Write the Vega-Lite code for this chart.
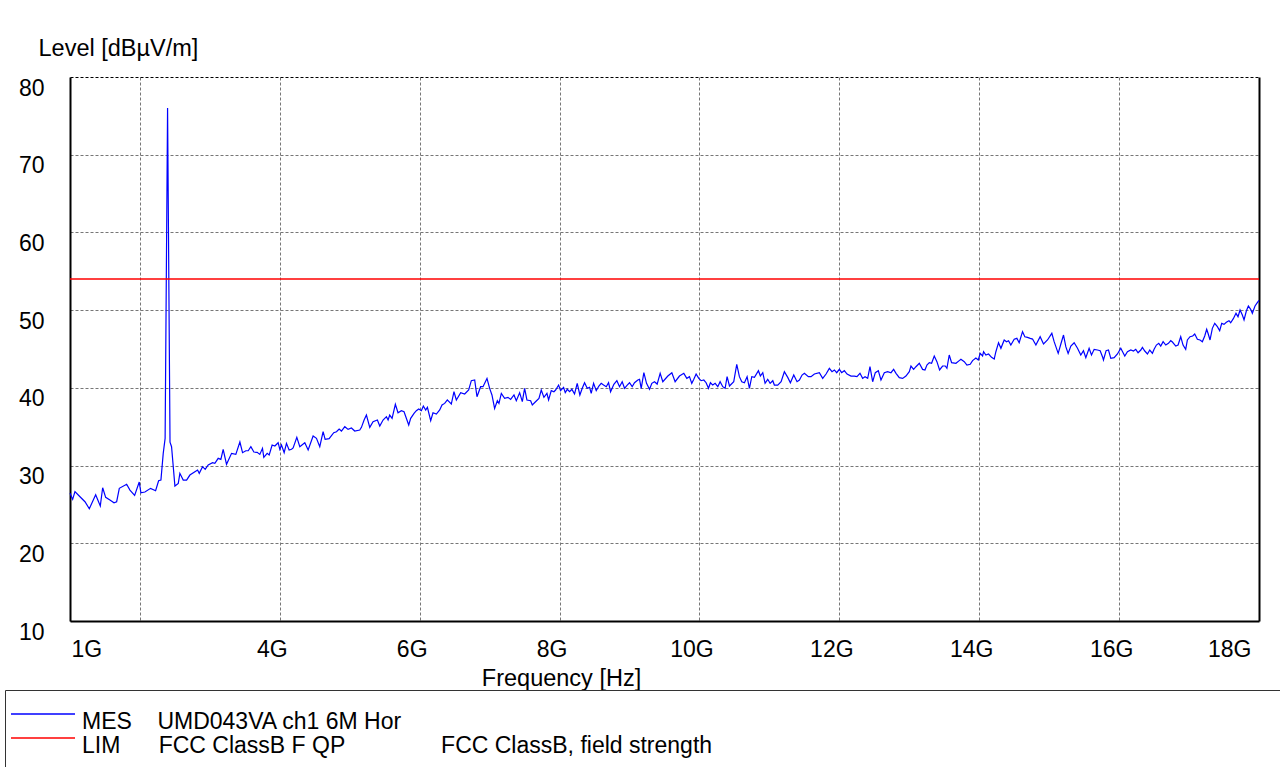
{
  "$schema": "https://vega.github.io/schema/vega-lite/v6.json",
  "width": 1189,
  "height": 544,
  "autosize": {"type": "none"},
  "padding": {"left": 70, "top": 77, "right": 21, "bottom": 146},
  "background": "white",
  "config": {
    "view": {"stroke": null},
    "font": "Liberation Sans",
    "legend": {
      "orient": "none", "legendX": -65, "legendY": 613,
      "title": null,
      "symbolType": "M-2.6,-0.8H3.8", "symbolSize": 400, "symbolStrokeWidth": 1.3,
      "labelFont": "Liberation Sans", "labelFontSize": 23, "labelColor": "black",
      "labelOffset": 33.5, "labelBaseline": "middle", "labelLimit": 4000,
      "padding": 20.5, "strokeColor": "#333333", "rowPadding": 0
    }
  },
  "data": {
    "values": [
      {"f": 1.0, "L": 26.43, "s": "MES"}, {"f": 1.038, "L": 25.65, "s": "MES"}, {"f": 1.071, "L": 26.64, "s": "MES"},
      {"f": 1.143, "L": 25.99, "s": "MES"}, {"f": 1.214, "L": 25.35, "s": "MES"}, {"f": 1.276, "L": 24.45, "s": "MES"},
      {"f": 1.367, "L": 26.25, "s": "MES"}, {"f": 1.433, "L": 24.8, "s": "MES"}, {"f": 1.467, "L": 27.15, "s": "MES"},
      {"f": 1.51, "L": 25.91, "s": "MES"}, {"f": 1.571, "L": 25.57, "s": "MES"}, {"f": 1.629, "L": 25.22, "s": "MES"},
      {"f": 1.667, "L": 25.35, "s": "MES"}, {"f": 1.705, "L": 27.07, "s": "MES"}, {"f": 1.81, "L": 27.59, "s": "MES"},
      {"f": 1.857, "L": 26.85, "s": "MES"}, {"f": 1.924, "L": 26.17, "s": "MES"}, {"f": 1.99, "L": 27.88, "s": "MES"},
      {"f": 2.014, "L": 26.5, "s": "MES"}, {"f": 2.071, "L": 26.6, "s": "MES"}, {"f": 2.152, "L": 27.07, "s": "MES"},
      {"f": 2.224, "L": 26.76, "s": "MES"}, {"f": 2.267, "L": 28.05, "s": "MES"}, {"f": 2.3, "L": 28.14, "s": "MES"},
      {"f": 2.333, "L": 31.57, "s": "MES"}, {"f": 2.36, "L": 33.5, "s": "MES"}, {"f": 2.395, "L": 76.0, "s": "MES"},
      {"f": 2.43, "L": 33.0, "s": "MES"}, {"f": 2.452, "L": 32.43, "s": "MES"}, {"f": 2.5, "L": 27.37, "s": "MES"},
      {"f": 2.548, "L": 27.71, "s": "MES"}, {"f": 2.571, "L": 29.0, "s": "MES"}, {"f": 2.619, "L": 28.14, "s": "MES"},
      {"f": 2.667, "L": 28.14, "s": "MES"}, {"f": 2.714, "L": 28.78, "s": "MES"}, {"f": 2.786, "L": 29.21, "s": "MES"},
      {"f": 2.824, "L": 29.43, "s": "MES"}, {"f": 2.848, "L": 29.0, "s": "MES"}, {"f": 2.895, "L": 29.86, "s": "MES"},
      {"f": 2.933, "L": 29.52, "s": "MES"}, {"f": 2.976, "L": 30.07, "s": "MES"}, {"f": 3.038, "L": 30.37, "s": "MES"},
      {"f": 3.071, "L": 30.28, "s": "MES"}, {"f": 3.119, "L": 30.93, "s": "MES"}, {"f": 3.157, "L": 30.8, "s": "MES"},
      {"f": 3.19, "L": 32.09, "s": "MES"}, {"f": 3.238, "L": 30.16, "s": "MES"}, {"f": 3.31, "L": 31.57, "s": "MES"},
      {"f": 3.371, "L": 31.44, "s": "MES"}, {"f": 3.429, "L": 33.03, "s": "MES"}, {"f": 3.467, "L": 31.66, "s": "MES"},
      {"f": 3.514, "L": 31.91, "s": "MES"}, {"f": 3.548, "L": 31.91, "s": "MES"}, {"f": 3.586, "L": 32.43, "s": "MES"},
      {"f": 3.629, "L": 31.74, "s": "MES"}, {"f": 3.676, "L": 31.7, "s": "MES"}, {"f": 3.714, "L": 31.44, "s": "MES"},
      {"f": 3.752, "L": 32.22, "s": "MES"}, {"f": 3.771, "L": 31.06, "s": "MES"}, {"f": 3.819, "L": 31.57, "s": "MES"},
      {"f": 3.848, "L": 31.36, "s": "MES"}, {"f": 3.89, "L": 32.64, "s": "MES"}, {"f": 3.929, "L": 32.52, "s": "MES"},
      {"f": 3.976, "L": 32.94, "s": "MES"}, {"f": 4.0, "L": 32.09, "s": "MES"}, {"f": 4.024, "L": 32.64, "s": "MES"},
      {"f": 4.062, "L": 31.66, "s": "MES"}, {"f": 4.095, "L": 32.86, "s": "MES"}, {"f": 4.133, "L": 32.0, "s": "MES"},
      {"f": 4.167, "L": 32.09, "s": "MES"}, {"f": 4.19, "L": 32.26, "s": "MES"}, {"f": 4.243, "L": 33.63, "s": "MES"},
      {"f": 4.286, "L": 32.43, "s": "MES"}, {"f": 4.357, "L": 32.94, "s": "MES"}, {"f": 4.405, "L": 32.0, "s": "MES"},
      {"f": 4.476, "L": 33.8, "s": "MES"}, {"f": 4.524, "L": 33.5, "s": "MES"}, {"f": 4.571, "L": 32.43, "s": "MES"},
      {"f": 4.619, "L": 34.36, "s": "MES"}, {"f": 4.648, "L": 33.38, "s": "MES"}, {"f": 4.705, "L": 33.46, "s": "MES"},
      {"f": 4.771, "L": 34.23, "s": "MES"}, {"f": 4.81, "L": 34.36, "s": "MES"}, {"f": 4.848, "L": 34.7, "s": "MES"},
      {"f": 4.881, "L": 34.44, "s": "MES"}, {"f": 4.929, "L": 35.0, "s": "MES"}, {"f": 4.976, "L": 34.66, "s": "MES"},
      {"f": 5.024, "L": 34.83, "s": "MES"}, {"f": 5.071, "L": 34.44, "s": "MES"}, {"f": 5.143, "L": 34.57, "s": "MES"},
      {"f": 5.167, "L": 34.92, "s": "MES"}, {"f": 5.205, "L": 35.86, "s": "MES"}, {"f": 5.238, "L": 36.5, "s": "MES"},
      {"f": 5.286, "L": 34.92, "s": "MES"}, {"f": 5.333, "L": 35.65, "s": "MES"}, {"f": 5.395, "L": 35.86, "s": "MES"},
      {"f": 5.429, "L": 35.09, "s": "MES"}, {"f": 5.476, "L": 35.86, "s": "MES"}, {"f": 5.524, "L": 36.29, "s": "MES"},
      {"f": 5.548, "L": 35.86, "s": "MES"}, {"f": 5.571, "L": 36.5, "s": "MES"}, {"f": 5.605, "L": 36.08, "s": "MES"},
      {"f": 5.652, "L": 37.88, "s": "MES"}, {"f": 5.69, "L": 36.8, "s": "MES"}, {"f": 5.738, "L": 37.06, "s": "MES"},
      {"f": 5.776, "L": 36.93, "s": "MES"}, {"f": 5.843, "L": 35.22, "s": "MES"}, {"f": 5.871, "L": 36.08, "s": "MES"},
      {"f": 5.919, "L": 36.72, "s": "MES"}, {"f": 5.952, "L": 37.06, "s": "MES"}, {"f": 5.986, "L": 37.28, "s": "MES"},
      {"f": 6.024, "L": 37.06, "s": "MES"}, {"f": 6.052, "L": 37.66, "s": "MES"}, {"f": 6.086, "L": 37.15, "s": "MES"},
      {"f": 6.11, "L": 37.5, "s": "MES"}, {"f": 6.157, "L": 35.77, "s": "MES"}, {"f": 6.19, "L": 36.8, "s": "MES"},
      {"f": 6.238, "L": 36.63, "s": "MES"}, {"f": 6.286, "L": 37.15, "s": "MES"}, {"f": 6.319, "L": 37.79, "s": "MES"},
      {"f": 6.357, "L": 38.0, "s": "MES"}, {"f": 6.395, "L": 38.44, "s": "MES"}, {"f": 6.419, "L": 38.22, "s": "MES"},
      {"f": 6.452, "L": 37.92, "s": "MES"}, {"f": 6.49, "L": 39.5, "s": "MES"}, {"f": 6.524, "L": 38.44, "s": "MES"},
      {"f": 6.586, "L": 39.38, "s": "MES"}, {"f": 6.643, "L": 39.21, "s": "MES"}, {"f": 6.7, "L": 39.72, "s": "MES"},
      {"f": 6.738, "L": 40.92, "s": "MES"}, {"f": 6.786, "L": 41.01, "s": "MES"}, {"f": 6.819, "L": 38.86, "s": "MES"},
      {"f": 6.871, "L": 40.15, "s": "MES"}, {"f": 6.905, "L": 40.15, "s": "MES"}, {"f": 6.962, "L": 41.22, "s": "MES"},
      {"f": 7.0, "L": 39.94, "s": "MES"}, {"f": 7.033, "L": 39.08, "s": "MES"}, {"f": 7.071, "L": 37.36, "s": "MES"},
      {"f": 7.11, "L": 38.35, "s": "MES"}, {"f": 7.133, "L": 38.0, "s": "MES"}, {"f": 7.167, "L": 39.29, "s": "MES"},
      {"f": 7.214, "L": 38.65, "s": "MES"}, {"f": 7.262, "L": 38.78, "s": "MES"}, {"f": 7.3, "L": 38.52, "s": "MES"},
      {"f": 7.348, "L": 39.08, "s": "MES"}, {"f": 7.381, "L": 38.35, "s": "MES"}, {"f": 7.429, "L": 39.38, "s": "MES"},
      {"f": 7.467, "L": 38.22, "s": "MES"}, {"f": 7.5, "L": 39.94, "s": "MES"}, {"f": 7.533, "L": 38.44, "s": "MES"},
      {"f": 7.586, "L": 38.35, "s": "MES"}, {"f": 7.61, "L": 37.79, "s": "MES"}, {"f": 7.667, "L": 38.31, "s": "MES"},
      {"f": 7.705, "L": 38.65, "s": "MES"}, {"f": 7.738, "L": 39.72, "s": "MES"}, {"f": 7.776, "L": 38.78, "s": "MES"},
      {"f": 7.819, "L": 39.29, "s": "MES"}, {"f": 7.843, "L": 38.44, "s": "MES"}, {"f": 7.881, "L": 39.64, "s": "MES"},
      {"f": 7.919, "L": 39.5, "s": "MES"}, {"f": 7.943, "L": 39.72, "s": "MES"}, {"f": 7.986, "L": 40.36, "s": "MES"},
      {"f": 8.014, "L": 39.64, "s": "MES"}, {"f": 8.057, "L": 40.07, "s": "MES"}, {"f": 8.081, "L": 39.38, "s": "MES"},
      {"f": 8.11, "L": 39.81, "s": "MES"}, {"f": 8.143, "L": 39.5, "s": "MES"}, {"f": 8.176, "L": 39.81, "s": "MES"},
      {"f": 8.214, "L": 39.21, "s": "MES"}, {"f": 8.252, "L": 40.58, "s": "MES"}, {"f": 8.29, "L": 39.08, "s": "MES"},
      {"f": 8.324, "L": 39.94, "s": "MES"}, {"f": 8.357, "L": 40.66, "s": "MES"}, {"f": 8.395, "L": 39.94, "s": "MES"},
      {"f": 8.429, "L": 40.07, "s": "MES"}, {"f": 8.452, "L": 39.29, "s": "MES"}, {"f": 8.486, "L": 40.58, "s": "MES"},
      {"f": 8.524, "L": 39.64, "s": "MES"}, {"f": 8.562, "L": 40.24, "s": "MES"}, {"f": 8.595, "L": 40.58, "s": "MES"},
      {"f": 8.629, "L": 40.36, "s": "MES"}, {"f": 8.667, "L": 40.15, "s": "MES"}, {"f": 8.7, "L": 40.66, "s": "MES"},
      {"f": 8.729, "L": 39.5, "s": "MES"}, {"f": 8.776, "L": 40.45, "s": "MES"}, {"f": 8.819, "L": 40.92, "s": "MES"},
      {"f": 8.857, "L": 40.15, "s": "MES"}, {"f": 8.895, "L": 40.79, "s": "MES"}, {"f": 8.929, "L": 39.94, "s": "MES"},
      {"f": 8.967, "L": 40.36, "s": "MES"}, {"f": 9.0, "L": 40.66, "s": "MES"}, {"f": 9.038, "L": 40.15, "s": "MES"},
      {"f": 9.071, "L": 40.66, "s": "MES"}, {"f": 9.119, "L": 41.01, "s": "MES"}, {"f": 9.143, "L": 41.1, "s": "MES"},
      {"f": 9.167, "L": 39.94, "s": "MES"}, {"f": 9.205, "L": 41.95, "s": "MES"}, {"f": 9.243, "L": 40.58, "s": "MES"},
      {"f": 9.286, "L": 39.81, "s": "MES"}, {"f": 9.319, "L": 40.58, "s": "MES"}, {"f": 9.357, "L": 40.79, "s": "MES"},
      {"f": 9.395, "L": 40.49, "s": "MES"}, {"f": 9.438, "L": 41.87, "s": "MES"}, {"f": 9.476, "L": 40.79, "s": "MES"},
      {"f": 9.548, "L": 41.52, "s": "MES"}, {"f": 9.605, "L": 41.95, "s": "MES"}, {"f": 9.652, "L": 40.79, "s": "MES"},
      {"f": 9.714, "L": 41.52, "s": "MES"}, {"f": 9.776, "L": 41.87, "s": "MES"}, {"f": 9.819, "L": 41.22, "s": "MES"},
      {"f": 9.857, "L": 41.44, "s": "MES"}, {"f": 9.89, "L": 40.58, "s": "MES"}, {"f": 9.919, "L": 41.1, "s": "MES"},
      {"f": 9.952, "L": 41.78, "s": "MES"}, {"f": 9.99, "L": 41.22, "s": "MES"}, {"f": 10.024, "L": 40.92, "s": "MES"},
      {"f": 10.062, "L": 41.01, "s": "MES"}, {"f": 10.095, "L": 40.66, "s": "MES"}, {"f": 10.129, "L": 39.94, "s": "MES"},
      {"f": 10.157, "L": 40.66, "s": "MES"}, {"f": 10.19, "L": 40.36, "s": "MES"}, {"f": 10.224, "L": 40.58, "s": "MES"},
      {"f": 10.262, "L": 40.15, "s": "MES"}, {"f": 10.295, "L": 40.79, "s": "MES"}, {"f": 10.333, "L": 40.15, "s": "MES"},
      {"f": 10.367, "L": 39.94, "s": "MES"}, {"f": 10.395, "L": 41.44, "s": "MES"}, {"f": 10.429, "L": 40.24, "s": "MES"},
      {"f": 10.49, "L": 40.79, "s": "MES"}, {"f": 10.533, "L": 43.02, "s": "MES"}, {"f": 10.571, "L": 41.44, "s": "MES"},
      {"f": 10.605, "L": 40.79, "s": "MES"}, {"f": 10.643, "L": 40.66, "s": "MES"}, {"f": 10.681, "L": 41.44, "s": "MES"},
      {"f": 10.714, "L": 39.94, "s": "MES"}, {"f": 10.748, "L": 41.44, "s": "MES"}, {"f": 10.786, "L": 41.35, "s": "MES"},
      {"f": 10.843, "L": 42.21, "s": "MES"}, {"f": 10.871, "L": 41.52, "s": "MES"}, {"f": 10.905, "L": 41.95, "s": "MES"},
      {"f": 10.938, "L": 40.58, "s": "MES"}, {"f": 10.976, "L": 41.1, "s": "MES"}, {"f": 11.01, "L": 40.58, "s": "MES"},
      {"f": 11.048, "L": 40.92, "s": "MES"}, {"f": 11.071, "L": 40.36, "s": "MES"}, {"f": 11.119, "L": 40.36, "s": "MES"},
      {"f": 11.167, "L": 40.79, "s": "MES"}, {"f": 11.214, "L": 42.08, "s": "MES"}, {"f": 11.262, "L": 41.35, "s": "MES"},
      {"f": 11.3, "L": 40.66, "s": "MES"}, {"f": 11.348, "L": 41.65, "s": "MES"}, {"f": 11.395, "L": 40.79, "s": "MES"},
      {"f": 11.429, "L": 41.01, "s": "MES"}, {"f": 11.467, "L": 41.65, "s": "MES"}, {"f": 11.5, "L": 41.87, "s": "MES"},
      {"f": 11.557, "L": 41.44, "s": "MES"}, {"f": 11.595, "L": 41.44, "s": "MES"}, {"f": 11.643, "L": 41.78, "s": "MES"},
      {"f": 11.714, "L": 41.95, "s": "MES"}, {"f": 11.762, "L": 41.22, "s": "MES"}, {"f": 11.81, "L": 41.78, "s": "MES"},
      {"f": 11.857, "L": 42.51, "s": "MES"}, {"f": 11.895, "L": 42.08, "s": "MES"}, {"f": 11.929, "L": 42.3, "s": "MES"},
      {"f": 11.962, "L": 41.95, "s": "MES"}, {"f": 12.0, "L": 42.38, "s": "MES"}, {"f": 12.033, "L": 41.95, "s": "MES"},
      {"f": 12.071, "L": 42.21, "s": "MES"}, {"f": 12.11, "L": 41.78, "s": "MES"}, {"f": 12.167, "L": 41.52, "s": "MES"},
      {"f": 12.214, "L": 41.52, "s": "MES"}, {"f": 12.252, "L": 41.44, "s": "MES"}, {"f": 12.295, "L": 41.87, "s": "MES"},
      {"f": 12.333, "L": 41.22, "s": "MES"}, {"f": 12.367, "L": 41.44, "s": "MES"}, {"f": 12.405, "L": 41.22, "s": "MES"},
      {"f": 12.438, "L": 42.72, "s": "MES"}, {"f": 12.476, "L": 40.79, "s": "MES"}, {"f": 12.514, "L": 41.95, "s": "MES"},
      {"f": 12.557, "L": 42.21, "s": "MES"}, {"f": 12.595, "L": 41.01, "s": "MES"}, {"f": 12.643, "L": 41.95, "s": "MES"},
      {"f": 12.69, "L": 42.08, "s": "MES"}, {"f": 12.738, "L": 41.95, "s": "MES"}, {"f": 12.776, "L": 42.38, "s": "MES"},
      {"f": 12.81, "L": 41.87, "s": "MES"}, {"f": 12.857, "L": 41.31, "s": "MES"}, {"f": 12.905, "L": 41.22, "s": "MES"},
      {"f": 12.952, "L": 41.52, "s": "MES"}, {"f": 13.0, "L": 42.08, "s": "MES"}, {"f": 13.024, "L": 42.81, "s": "MES"},
      {"f": 13.062, "L": 42.38, "s": "MES"}, {"f": 13.095, "L": 42.72, "s": "MES"}, {"f": 13.143, "L": 43.16, "s": "MES"},
      {"f": 13.19, "L": 42.38, "s": "MES"}, {"f": 13.224, "L": 42.3, "s": "MES"}, {"f": 13.252, "L": 42.94, "s": "MES"},
      {"f": 13.286, "L": 43.24, "s": "MES"}, {"f": 13.319, "L": 43.16, "s": "MES"}, {"f": 13.357, "L": 44.1, "s": "MES"},
      {"f": 13.395, "L": 43.37, "s": "MES"}, {"f": 13.433, "L": 42.3, "s": "MES"}, {"f": 13.476, "L": 42.81, "s": "MES"},
      {"f": 13.514, "L": 42.81, "s": "MES"}, {"f": 13.538, "L": 42.51, "s": "MES"}, {"f": 13.571, "L": 44.23, "s": "MES"},
      {"f": 13.605, "L": 43.24, "s": "MES"}, {"f": 13.667, "L": 43.16, "s": "MES"}, {"f": 13.714, "L": 43.5, "s": "MES"},
      {"f": 13.738, "L": 43.67, "s": "MES"}, {"f": 13.786, "L": 43.37, "s": "MES"}, {"f": 13.824, "L": 42.94, "s": "MES"},
      {"f": 13.871, "L": 43.03, "s": "MES"}, {"f": 13.905, "L": 43.5, "s": "MES"}, {"f": 13.952, "L": 43.84, "s": "MES"},
      {"f": 13.986, "L": 43.58, "s": "MES"}, {"f": 14.014, "L": 44.44, "s": "MES"}, {"f": 14.048, "L": 44.1, "s": "MES"},
      {"f": 14.062, "L": 44.65, "s": "MES"}, {"f": 14.095, "L": 44.23, "s": "MES"}, {"f": 14.133, "L": 44.36, "s": "MES"},
      {"f": 14.176, "L": 43.93, "s": "MES"}, {"f": 14.214, "L": 43.71, "s": "MES"}, {"f": 14.238, "L": 44.65, "s": "MES"},
      {"f": 14.276, "L": 45.81, "s": "MES"}, {"f": 14.31, "L": 45.09, "s": "MES"}, {"f": 14.357, "L": 46.16, "s": "MES"},
      {"f": 14.39, "L": 45.94, "s": "MES"}, {"f": 14.419, "L": 46.07, "s": "MES"}, {"f": 14.452, "L": 45.51, "s": "MES"},
      {"f": 14.5, "L": 46.25, "s": "MES"}, {"f": 14.538, "L": 46.37, "s": "MES"}, {"f": 14.571, "L": 45.81, "s": "MES"},
      {"f": 14.619, "L": 47.23, "s": "MES"}, {"f": 14.652, "L": 46.58, "s": "MES"}, {"f": 14.69, "L": 46.5, "s": "MES"},
      {"f": 14.729, "L": 46.37, "s": "MES"}, {"f": 14.762, "L": 46.28, "s": "MES"}, {"f": 14.81, "L": 45.51, "s": "MES"},
      {"f": 14.871, "L": 46.58, "s": "MES"}, {"f": 14.919, "L": 45.64, "s": "MES"}, {"f": 14.976, "L": 46.16, "s": "MES"},
      {"f": 15.038, "L": 47.02, "s": "MES"}, {"f": 15.071, "L": 45.94, "s": "MES"}, {"f": 15.129, "L": 44.44, "s": "MES"},
      {"f": 15.167, "L": 45.64, "s": "MES"}, {"f": 15.205, "L": 46.8, "s": "MES"}, {"f": 15.238, "L": 45.3, "s": "MES"},
      {"f": 15.271, "L": 44.44, "s": "MES"}, {"f": 15.31, "L": 45.38, "s": "MES"}, {"f": 15.357, "L": 45.81, "s": "MES"},
      {"f": 15.405, "L": 45.09, "s": "MES"}, {"f": 15.452, "L": 44.23, "s": "MES"}, {"f": 15.49, "L": 44.78, "s": "MES"},
      {"f": 15.524, "L": 43.88, "s": "MES"}, {"f": 15.571, "L": 45.09, "s": "MES"}, {"f": 15.605, "L": 44.23, "s": "MES"},
      {"f": 15.643, "L": 44.96, "s": "MES"}, {"f": 15.69, "L": 44.87, "s": "MES"}, {"f": 15.729, "L": 44.78, "s": "MES"},
      {"f": 15.762, "L": 44.01, "s": "MES"}, {"f": 15.776, "L": 43.58, "s": "MES"}, {"f": 15.814, "L": 44.78, "s": "MES"},
      {"f": 15.848, "L": 44.87, "s": "MES"}, {"f": 15.881, "L": 43.8, "s": "MES"}, {"f": 15.929, "L": 43.88, "s": "MES"},
      {"f": 15.976, "L": 44.36, "s": "MES"}, {"f": 16.024, "L": 45.09, "s": "MES"}, {"f": 16.057, "L": 44.52, "s": "MES"},
      {"f": 16.081, "L": 44.1, "s": "MES"}, {"f": 16.119, "L": 44.65, "s": "MES"}, {"f": 16.167, "L": 44.87, "s": "MES"},
      {"f": 16.205, "L": 44.74, "s": "MES"}, {"f": 16.238, "L": 44.96, "s": "MES"}, {"f": 16.271, "L": 44.52, "s": "MES"},
      {"f": 16.31, "L": 44.87, "s": "MES"}, {"f": 16.333, "L": 45.21, "s": "MES"}, {"f": 16.367, "L": 44.74, "s": "MES"},
      {"f": 16.405, "L": 44.36, "s": "MES"}, {"f": 16.438, "L": 44.87, "s": "MES"}, {"f": 16.476, "L": 44.44, "s": "MES"},
      {"f": 16.5, "L": 44.96, "s": "MES"}, {"f": 16.533, "L": 45.51, "s": "MES"}, {"f": 16.567, "L": 45.73, "s": "MES"},
      {"f": 16.595, "L": 45.38, "s": "MES"}, {"f": 16.629, "L": 45.94, "s": "MES"}, {"f": 16.667, "L": 45.51, "s": "MES"},
      {"f": 16.705, "L": 45.73, "s": "MES"}, {"f": 16.738, "L": 46.07, "s": "MES"}, {"f": 16.762, "L": 45.9, "s": "MES"},
      {"f": 16.81, "L": 45.38, "s": "MES"}, {"f": 16.843, "L": 45.51, "s": "MES"}, {"f": 16.881, "L": 46.58, "s": "MES"},
      {"f": 16.914, "L": 45.51, "s": "MES"}, {"f": 16.952, "L": 44.96, "s": "MES"}, {"f": 16.976, "L": 46.16, "s": "MES"},
      {"f": 17.014, "L": 46.58, "s": "MES"}, {"f": 17.052, "L": 46.67, "s": "MES"}, {"f": 17.081, "L": 46.93, "s": "MES"},
      {"f": 17.119, "L": 46.25, "s": "MES"}, {"f": 17.157, "L": 46.16, "s": "MES"}, {"f": 17.19, "L": 45.94, "s": "MES"},
      {"f": 17.224, "L": 46.67, "s": "MES"}, {"f": 17.252, "L": 47.53, "s": "MES"}, {"f": 17.271, "L": 47.02, "s": "MES"},
      {"f": 17.3, "L": 46.16, "s": "MES"}, {"f": 17.333, "L": 47.66, "s": "MES"}, {"f": 17.367, "L": 48.3, "s": "MES"},
      {"f": 17.405, "L": 47.87, "s": "MES"}, {"f": 17.438, "L": 47.35, "s": "MES"}, {"f": 17.467, "L": 48.3, "s": "MES"},
      {"f": 17.5, "L": 48.17, "s": "MES"}, {"f": 17.533, "L": 48.43, "s": "MES"}, {"f": 17.571, "L": 48.64, "s": "MES"},
      {"f": 17.595, "L": 48.38, "s": "MES"}, {"f": 17.633, "L": 48.9, "s": "MES"}, {"f": 17.671, "L": 49.59, "s": "MES"},
      {"f": 17.7, "L": 49.16, "s": "MES"}, {"f": 17.729, "L": 50.02, "s": "MES"}, {"f": 17.762, "L": 49.37, "s": "MES"},
      {"f": 17.786, "L": 48.73, "s": "MES"}, {"f": 17.819, "L": 49.89, "s": "MES"}, {"f": 17.848, "L": 50.53, "s": "MES"},
      {"f": 17.881, "L": 50.1, "s": "MES"}, {"f": 17.905, "L": 49.59, "s": "MES"}, {"f": 17.943, "L": 50.53, "s": "MES"},
      {"f": 17.976, "L": 50.96, "s": "MES"}, {"f": 18.0, "L": 51.25, "s": "MES"},
      {"f": 1.0, "L": 54, "s": "LIM"}, {"f": 18.0, "L": 54, "s": "LIM"}
    ]
  },
  "encoding": {
    "x": {
      "field": "f", "type": "quantitative",
      "scale": {"domain": [1, 18], "nice": false, "zero": false},
      "axis": {
        "values": [1, 2, 4, 6, 8, 10, 12, 14, 16, 18],
        "labelExpr": "datum.value == 2 ? '' : datum.value + 'G'",
        "labelFlush": true,
        "labelOffset": {"condition": {"test": "datum.value == 1", "value": 1}, "value": -8},
        "ticks": false,
        "domainColor": "black", "domainWidth": 2,
        "gridColor": "#777777", "gridDash": [3, 2], "gridWidth": 1,
        "gridOpacity": {"condition": {"test": "datum.value == 1 || datum.value == 18", "value": 0}, "value": 1},
        "labelFont": "Liberation Sans", "labelFontSize": 23, "labelColor": "black", "labelPadding": 17,
        "title": "Frequency [Hz]", "titleFont": "Liberation Sans", "titleFontSize": 23.5, "titleFontWeight": "normal",
        "titleColor": "black", "titleX": 491, "titleY": 57, "titleAlign": "center", "titleBaseline": "middle"
      }
    },
    "y": {
      "field": "L", "type": "quantitative",
      "scale": {"domain": [10, 80], "nice": false, "zero": false}
    },
    "color": {
      "field": "s", "type": "nominal",
      "scale": {"domain": ["MES", "LIM"], "range": ["#0000ff", "#ff0000"]},
      "legend": {
        "labelExpr": "datum.label == 'MES' ? 'MES\u00a0\u00a0\u00a0\u00a0UMD043VA ch1 6M Hor' : 'LIM\u00a0\u00a0\u00a0\u00a0\u00a0\u00a0FCC ClassB F QP\u00a0\u00a0\u00a0\u00a0\u00a0\u00a0\u00a0\u00a0\u00a0\u00a0\u00a0\u00a0\u00a0\u00a0\u00a0FCC ClassB, field strength\u00a0\u00a0\u00a0\u00a0\u00a0\u00a0\u00a0\u00a0\u00a0\u00a0\u00a0\u00a0\u00a0\u00a0\u00a0\u00a0\u00a0\u00a0\u00a0\u00a0\u00a0\u00a0\u00a0\u00a0\u00a0\u00a0\u00a0\u00a0\u00a0\u00a0\u00a0\u00a0\u00a0\u00a0\u00a0\u00a0\u00a0\u00a0\u00a0\u00a0\u00a0\u00a0\u00a0\u00a0\u00a0\u00a0\u00a0\u00a0\u00a0\u00a0\u00a0\u00a0\u00a0\u00a0\u00a0\u00a0\u00a0\u00a0\u00a0\u00a0\u00a0\u00a0\u00a0\u00a0\u00a0\u00a0\u00a0\u00a0\u00a0\u00a0\u00a0\u00a0\u00a0\u00a0\u00a0\u00a0\u00a0\u00a0\u00a0\u00a0\u00a0\u00a0\u00a0\u00a0\u00a0\u00a0\u200b'"
      }
    }
  },
  "layer": [
    {
      "transform": [{"filter": "datum.s == 'MES'"}],
      "mark": {"type": "line", "strokeWidth": 1.2, "interpolate": "linear"},
      "encoding": {
        "y": {
          "field": "L", "type": "quantitative",
          "scale": {"domain": [10, 80], "nice": false, "zero": false},
          "axis": {
            "values": [10, 20, 30, 40, 50, 60, 70, 80],
            "ticks": false,
            "domainColor": "black", "domainWidth": 2,
            "gridColor": {"condition": {"test": "datum.value == 80", "value": "black"}, "value": "#777777"},
            "gridDash": [3, 2], "gridWidth": 1,
            "labelFont": "Liberation Sans", "labelFontSize": 23, "labelColor": "black",
            "labelPadding": 26, "labelBaseline": "middle", "labelOffset": 11,
            "title": "Level [dBµV/m]", "titleFont": "Liberation Sans", "titleFontSize": 23.5, "titleFontWeight": "normal",
            "titleColor": "black", "titleAngle": 0, "titleAlign": "left", "titleBaseline": "middle",
            "titleX": -32, "titleY": -29
          }
        }
      }
    },
    {
      "transform": [{"filter": "datum.s == 'LIM'"}],
      "mark": {"type": "line", "strokeWidth": 1.5},
      "encoding": {
        "y": {
          "field": "L", "type": "quantitative",
          "scale": {"domain": [10, 80], "nice": false, "zero": false},
          "axis": {"orient": "right", "labels": false, "ticks": false, "grid": false, "domainColor": "black", "domainWidth": 2, "title": null}
        }
      }
    }
  ],
  "resolve": {"axis": {"y": "independent"}}
}
